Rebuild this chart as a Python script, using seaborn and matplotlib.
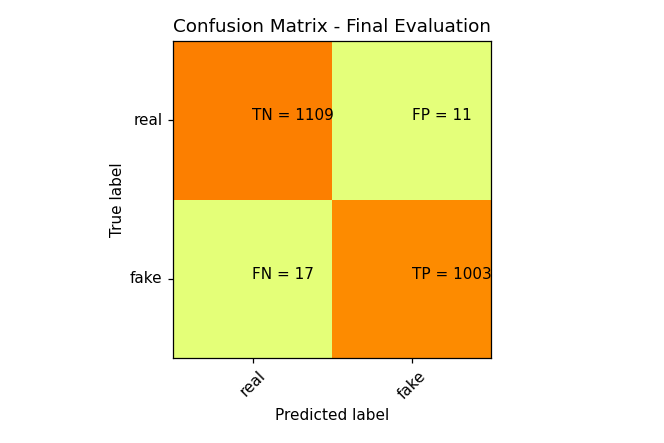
import numpy as np
import seaborn as sns
import matplotlib
matplotlib.use("Agg")
import matplotlib.pyplot as plt

classes = ["real", "fake"]
cm = np.array([[1109, 11],
               [17, 1003]])
cell_names = [["TN", "FP"],
              ["FN", "TP"]]

fig = plt.figure(figsize=(6.64, 4.43), dpi=100)
ax = fig.add_axes([173 / 664, 85 / 443, 318 / 664, 317 / 443])
sns.heatmap(cm, cmap="Wistia", cbar=False, ax=ax,
            xticklabels=classes, yticklabels=classes)

# outline like imshow
for side in ax.spines.values():
    side.set_visible(True)
    side.set_linewidth(0.9)

fs = 11
for i in range(2):
    for j in range(2):
        ax.text(j + 0.5, i + 0.5, f"{cell_names[i][j]} = {cm[i, j]}",
                ha="left", va="baseline", fontsize=fs)

ax.set_title("Confusion Matrix - Final Evaluation", fontsize=13.2, pad=6.6)
ax.set_ylabel("True label", fontsize=fs)
ax.set_xlabel("Predicted label", fontsize=fs)
plt.setp(ax.get_xticklabels(), rotation=45, ha="center")
plt.setp(ax.get_yticklabels(), rotation=0)
ax.tick_params(labelsize=fs, length=3.9, width=0.9)

fig.savefig("out.png", dpi=100)
